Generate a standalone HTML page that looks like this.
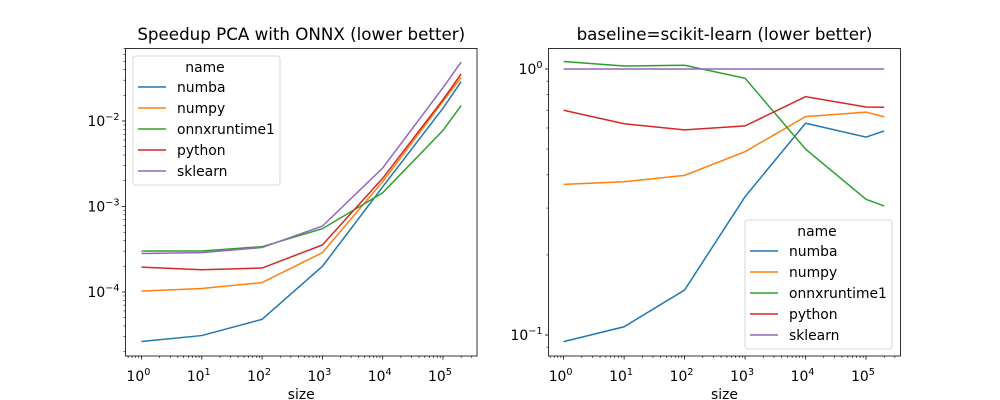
<!DOCTYPE html>
<html><head><meta charset="utf-8">
<style>
body{margin:0;background:#fff;}
svg{display:block;font-family:"DejaVu Sans","Liberation Sans",sans-serif;}
</style></head>
<body>
<svg id="chart" width="1000" height="400" viewBox="0 0 1000 400"></svg>
<script>
const sizes = [1, 10, 100, 1000, 10000, 100000, 200000];
const seriesNames = ["numba", "numpy", "onnxruntime1", "python", "sklearn"];
const colors = ["#1f77b4", "#ff7f0e", "#2ca02c", "#d62728", "#9467bd"];
// left: log10 of time
const leftNumba = [-4.58, -4.51, -4.32, -3.70, -2.77, -1.85, -1.54];
const leftNumpy = [-3.99, -3.96, -3.89, -3.54, -2.71, -1.77, -1.49];
const leftOnnx = [-3.52, -3.52, -3.47, -3.26, -2.84, -2.11, -1.82];
const leftPython = [-3.71, -3.74, -3.72, -3.45, -2.67, -1.75, -1.45];
const leftSklearn = [-3.55, -3.54, -3.48, -3.23, -2.55, -1.61, -1.31];
// right: log10 of ratio vs sklearn
const rightNumba = [-1.025, -0.969, -0.831, -0.48, -0.204, -0.256, -0.233];
const rightNumpy = [-0.434, -0.424, -0.40, -0.311, -0.179, -0.162, -0.180];
const rightOnnx = [0.028, 0.011, 0.014, -0.035, -0.301, -0.49, -0.515];
const rightPython = [-0.155, -0.206, -0.229, -0.214, -0.104, -0.143, -0.144];
const rightSklearn = [0, 0, 0, 0, 0, 0, 0];
const xTickExps = [0, 1, 2, 3, 4, 5];
const leftYTickExps = [-2, -3, -4];
const rightYTickExps = [0, -1];

const NS = "http://www.w3.org/2000/svg";
const svg = document.getElementById("chart");
function el(tag, attrs, parent) {
  const e = document.createElementNS(NS, tag);
  for (const k in attrs) e.setAttribute(k, attrs[k]);
  (parent || svg).appendChild(e);
  return e;
}

function drawPanel(cfg) {
  const g = el("g", {});
  
  
  const X = v => cfg.x0 + (Math.log10(v) - cfg.xmin) / (cfg.xmax - cfg.xmin) * (cfg.x1 - cfg.x0);
  const Y = l => cfg.y1 - (l - cfg.ymin) / (cfg.ymax - cfg.ymin) * (cfg.y1 - cfg.y0);
  cfg.data.forEach((arr, i) => {
    const pts = arr.map((l, j) => X(sizes[j]).toFixed(2) + "," + Y(l).toFixed(2)).join(" ");
    const p = el("polyline", {points: pts, fill: "none", stroke: colors[i], "stroke-width": 1.5}, g);
    
    
  });
  const fr = el("rect", {x: cfg.x0, y: cfg.y0, width: cfg.x1 - cfg.x0, height: cfg.y1 - cfg.y0, fill: "none", stroke: "#000", "stroke-width": 0.8}, g);
  
  
  for (let e = Math.floor(cfg.xmin); e <= Math.ceil(cfg.xmax); e++) {
    for (let m = 1; m < 10; m++) {
      const lv = e + Math.log10(m);
      if (lv < cfg.xmin || lv > cfg.xmax) continue;
      const x = X(Math.pow(10, lv));
      el("line", {x1: x, x2: x, y1: cfg.y1, y2: cfg.y1 + (m === 1 ? 3.5 : 2), stroke: "#000", "stroke-width": m === 1 ? 0.8 : 0.6}, g);
    }
  }
  xTickExps.forEach(e => {
    const t = el("text", {x: X(Math.pow(10, e)) - 3, y: 381, "text-anchor": "middle", "font-size": 13.9, fill: "#000"}, g);
    
    
    t.innerHTML = '10<tspan dy="-6" font-size="9.7">' + e + '</tspan>';
  });
  const xt = el("text", {x: (cfg.x0 + cfg.x1) / 2, y: 399, "text-anchor": "middle", "font-size": 13.9}, g);
  
  
  xt.textContent = "size";
  for (let e = Math.floor(cfg.ymin); e <= Math.ceil(cfg.ymax); e++) {
    for (let m = 1; m < 10; m++) {
      const lv = e + Math.log10(m);
      if (lv < cfg.ymin || lv > cfg.ymax) continue;
      const y = Y(lv);
      el("line", {x1: cfg.x0, x2: cfg.x0 - (m === 1 ? 3.5 : 2), y1: y, y2: y, stroke: "#000", "stroke-width": m === 1 ? 0.8 : 0.6}, g);
    }
  }
  cfg.yticks.forEach(e => {
    const t = el("text", {x: cfg.x0 - 6, y: Y(e) + 5, "text-anchor": "end", "font-size": 13.9}, g);
    
    
    t.innerHTML = '10<tspan dy="-6" font-size="9.7">' + (e < 0 ? '\u2212' + (-e) : e) + '</tspan>';
  });
  const tt = el("text", {x: (cfg.x0 + cfg.x1) / 2, y: 40, "text-anchor": "middle", "font-size": 16.7}, g);
  
  
  tt.textContent = cfg.title;
  const lg = el("g", {}, g);
  
  
  el("rect", {x: cfg.lx, y: cfg.ly, width: 147, height: 129, rx: 2.5, fill: "#fff", "fill-opacity": 0.8, stroke: "#ccc", "stroke-width": 0.8}, lg);
  const lt = el("text", {x: cfg.lx + 72, y: cfg.ly + 16, "text-anchor": "middle", "font-size": 13.9}, lg);
  lt.textContent = "name";
  seriesNames.forEach((n, i) => {
    const yy = cfg.ly + 31 + i * 21;
    const ent = el("g", {}, lg);
    
    
    el("line", {x1: cfg.lx + 5, x2: cfg.lx + 33, y1: yy, y2: yy, stroke: colors[i], "stroke-width": 1.5}, ent);
    const tx = el("text", {x: cfg.lx + 44, y: yy + 5, "font-size": 13.9}, ent);
    tx.textContent = n;
  });
}

drawPanel({name: "left-panel", x0: 125.5, x1: 477, y0: 48.5, y1: 356,
  xmin: -0.265, xmax: 5.564, ymin: -4.749, ymax: -1.152,
  data: [leftNumba, leftNumpy, leftOnnx, leftPython, leftSklearn],
  yticks: leftYTickExps, title: "Speedup PCA with ONNX (lower better)", lx: 133, ly: 56});
drawPanel({name: "right-panel", x0: 548.5, x1: 900.5, y0: 48.5, y1: 356,
  xmin: -0.25, xmax: 5.57, ymin: -1.079, ymax: 0.077,
  data: [rightNumba, rightNumpy, rightOnnx, rightPython, rightSklearn],
  yticks: rightYTickExps, title: "baseline=scikit-learn (lower better)", lx: 745, ly: 220});
</script>
</body></html>
